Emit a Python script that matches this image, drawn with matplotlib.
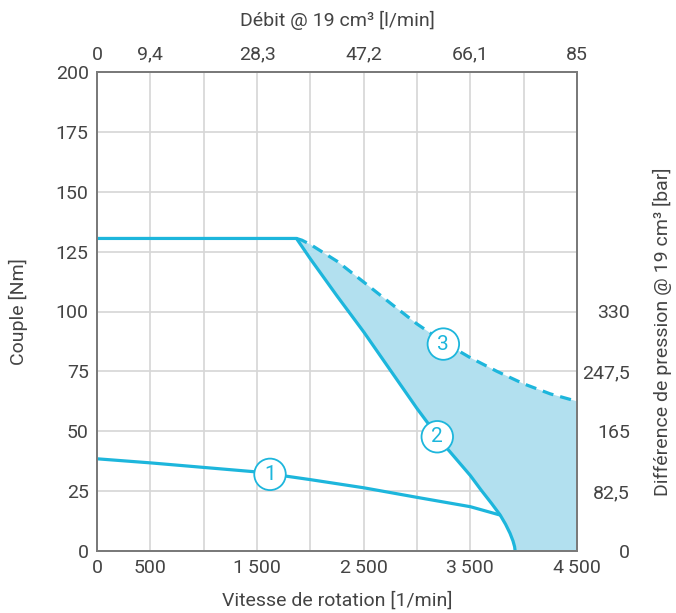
import numpy as np
import matplotlib
matplotlib.use("Agg")
import matplotlib.pyplot as plt

plt.rcParams['font.family'] = ['Roboto', 'DejaVu Sans']
plt.rcParams['font.size'] = 14

# courbe 1
x1 = [0, 500, 1000, 1500, 2000, 2500, 3000, 3500, 3780]
y1 = [38.5, 36.8, 34.9, 33.0, 29.8, 26.4, 22.4, 18.5, 15.0]

# courbe 2 (couple max)
x2 = [0, 1870, 2000, 2250, 2500, 2750, 3000, 3250, 3500, 3600, 3700, 3780, 3830, 3872, 3900, 3915, 3920]
y2 = [130.5, 130.5, 122.0, 106.5, 91.5, 75.5, 59.5, 44.5, 31.5, 25.5, 19.8, 15.0, 11.2, 7.4, 4.2, 1.8, 0.0]

# courbe 3 (pointillés)
x3 = [1870, 1920, 2000, 2250, 2500, 2750, 3000, 3250, 3500, 3750, 4000, 4250, 4500]
y3 = [130.5, 129.8, 128.0, 121.0, 112.3, 103.5, 94.8, 87.2, 80.7, 75.0, 69.8, 65.6, 62.5]

# étiquettes
xticks = [0, 500, 1500, 2500, 3500, 4500]
xlabels = ['0', '500', '1\u2009500', '2\u2009500', '3\u2009500', '4\u2009500']
toplabels = ['0', '9,4', '28,3', '47,2', '66,1', '85']
rticks = [0, 25, 50, 75, 100]
rlabels = ['0', '82,5', '165', '247,5', '330']
bulles = [('1', 1622, 32.0), ('2', 3190, 47.7), ('3', 3247, 86.4)]

bleu = '#1db6dc'
remplissage = '#b2e0ef'
gris = '#7a7a7a'
texte = '#444444'

fig = plt.figure(figsize=(6.76, 6.13), dpi=100)
ax = fig.add_subplot(111)
fig.subplots_adjust(left=97/676, right=577/676, top=1-72/613, bottom=1-551/613)

# zone remplie entre courbe 2 et courbe 3
i0 = x2.index(1870)
px = list(x3) + [4500] + x2[::-1][:len(x2) - i0]
py = list(y3) + [0] + y2[::-1][:len(y2) - i0]
ax.fill(px, py, color=remplissage, lw=0, zorder=1)

ax.plot(x1, y1, color=bleu, lw=2.3, zorder=3, solid_capstyle='butt')
ax.plot(x2, y2, color=bleu, lw=2.3, zorder=3, solid_capstyle='butt', solid_joinstyle='round')
ax.plot(x3, y3, color=bleu, lw=2.3, zorder=3, dashes=(3.5, 2.2))

for txt, bx, by in bulles:
    ax.text(bx, by, txt, color=bleu, fontsize=15, ha='center', va='center', zorder=5,
            bbox=dict(boxstyle='circle,pad=0.3', fc='white', ec=bleu, lw=1.3))

ax.set_xlim(0, 4500)
ax.set_ylim(0, 200)
ax.set_xticks(np.arange(0, 4501, 500), minor=True)
ax.set_xticks(xticks)
ax.set_xticklabels(xlabels)
ax.set_yticks(np.arange(0, 201, 25))
ax.grid(True, which='both', color='#d6d6d6', lw=1.2, zorder=0)
ax.set_axisbelow(True)
ax.tick_params(which='both', length=0, pad=6, colors=texte)
for s in ax.spines.values():
    s.set_color(gris)
    s.set_linewidth(1.2)

ax.set_xlabel('Vitesse de rotation [1/min]', color=texte, labelpad=10)
ax.set_ylabel('Couple [Nm]', color=texte, labelpad=20)

# axe du haut
axt = ax.twiny()
axt.set_xlim(0, 4500)
axt.set_xticks(xticks)
axt.set_xticklabels(toplabels)
axt.tick_params(length=0, pad=6, colors=texte)
axt.set_xlabel('Débit @ 19 cm³ [l/min]', color=texte, labelpad=14)

# axe de droite
axr = ax.twinx()
axr.set_ylim(0, 200)
axr.set_yticks(rticks)
axr.set_yticklabels(rlabels)
axr.tick_params(length=0, pad=38, colors=texte)
for lbl in axr.get_yticklabels():
    lbl.set_ha('right')
for a in (axt, axr):
    for s in a.spines.values():
        s.set_color(gris)
        s.set_linewidth(1.2)

fig.text(662/676, 1-332/613, 'Différence de pression @ 19 cm³ [bar]', rotation=90,
         ha='center', va='center', color=texte, fontsize=14)

plt.savefig('out.png', dpi=100)
